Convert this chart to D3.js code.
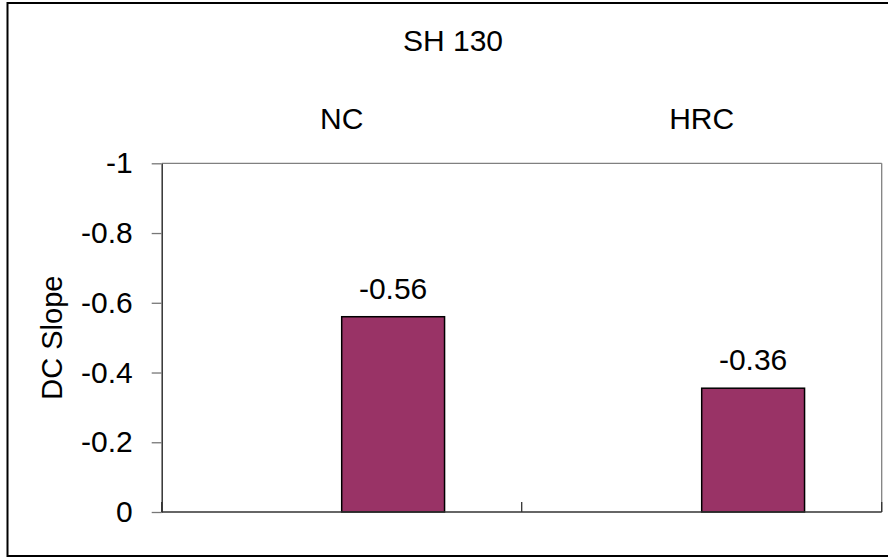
<!DOCTYPE html>
<html><head><meta charset="utf-8">
<script src="https://cdn.jsdelivr.net/npm/d3@7/dist/d3.min.js"></script>
<style>
html,body{margin:0;padding:0;background:#fff;}
svg{display:block;}
text{font-family:"Liberation Sans",Arial,sans-serif;fill:#000;}
</style></head>
<body>
<svg id="chart" width="888" height="557"></svg>
<script>
const title = "SH 130";
const categories = ["NC", "HRC"];
const seriesNames = ["blank", "DC Slope"];
const blankValues = [null, null];
const slopeValues = [-0.56, -0.355];
const valueLabels = ["-0.56", "-0.36"];
const tickValues = [0, -0.2, -0.4, -0.6, -0.8, -1];
const tickLabels = ["0", "-0.2", "-0.4", "-0.6", "-0.8", "-1"];
const yTitle = "DC Slope";

const svg = d3.select("#chart");
const pLeft = 161.7, pRight = 881.7, pTop = 163.3, pBottom = 512;

// outer chart border
svg.append("rect").attr("x", 7.5).attr("y", 3).attr("width", 884).attr("height", 553)
  .attr("fill", "#fff").attr("stroke", "#000").attr("stroke-width", 2);

const x = d3.scaleBand().domain(categories).range([pLeft, pRight]).paddingInner(0).paddingOuter(0);
const xs = d3.scaleBand().domain(seriesNames).range([0, x.bandwidth()]).paddingInner(0).paddingOuter(0.75);
const y = d3.scaleLinear().domain([0, -1]).range([pBottom, pTop]);

// plot area border (top & right)
svg.append("line").attr("x1", pLeft).attr("x2", pRight).attr("y1", y(-1)).attr("y2", y(-1))
  .attr("stroke", "#808080").attr("stroke-width", 1.3);
svg.append("line").attr("x1", pRight).attr("x2", pRight).attr("y1", y(-1)).attr("y2", y(0))
  .attr("stroke", "#808080").attr("stroke-width", 1.3);

// bars
const series = [blankValues, slopeValues];
series.forEach((vals, si) => {
  const g = svg.append("g");
  categories.forEach((c, i) => {
    const v = vals[i];
    if (v == null) return;
    const bx = x(c) + xs(seriesNames[si]);
    g.append("rect")
      .attr("x", bx).attr("width", xs.bandwidth())
      .attr("y", y(v)).attr("height", y(0) - y(v))
      .attr("fill", "#993366").attr("stroke", "#000").attr("stroke-width", 1.5);
    g.append("text")
      .attr("x", bx + xs.bandwidth() / 2).attr("y", y(v) - 18)
      .attr("text-anchor", "middle").attr("font-size", 30)
      .text(valueLabels[i]);
  });
});

// value axis
const yAxis = d3.axisLeft(y).tickValues(tickValues)
  .tickFormat((d, i) => tickLabels[i]).tickSize(10).tickSizeOuter(0).tickPadding(19);
const ga = svg.append("g").attr("transform", `translate(${pLeft},0)`).call(yAxis);
ga.select(".domain").attr("stroke", "#333").attr("stroke-width", 1.5);
ga.selectAll(".tick line").attr("stroke", "#777").attr("stroke-width", 1.3);
ga.selectAll(".tick text").attr("font-size", 30).attr("fill", "#000")
  .attr("font-family", "Liberation Sans, Arial, sans-serif");

// category axis line at value 0
svg.append("line").attr("x1", pLeft).attr("x2", pRight).attr("y1", y(0)).attr("y2", y(0))
  .attr("stroke", "#333").attr("stroke-width", 1.5);
const bounds = categories.map(c => x(c)).concat([x(categories[categories.length - 1]) + x.bandwidth()]);
svg.append("g").selectAll("line").data(bounds).join("line")
  .attr("x1", d => d).attr("x2", d => d).attr("y1", y(0)).attr("y2", y(0) - 10)
  .attr("stroke", "#333").attr("stroke-width", 1.3);

// category labels (top)
svg.append("g").selectAll("text").data(categories).join("text")
  .attr("x", d => x(d) + x.bandwidth() / 2).attr("y", 129)
  .attr("text-anchor", "middle").attr("font-size", 30).text(d => d);

// title
svg.append("text").attr("x", 453).attr("y", 51).attr("text-anchor", "middle")
  .attr("font-size", 30).text(title);

// y title
svg.append("text").attr("transform", `translate(61.5,${(pTop + pBottom) / 2}) rotate(-90)`)
  .attr("text-anchor", "middle").attr("font-size", 29).text(yTitle);
</script>
</body></html>
